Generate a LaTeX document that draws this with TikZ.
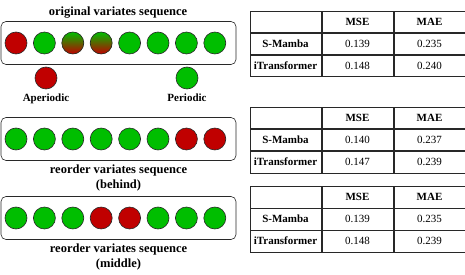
\documentclass[tikz,border=0pt]{standalone}
\usepackage{fontspec}
\setmainfont{Liberation Serif}
\usetikzlibrary{positioning}
\definecolor{vargreen}{RGB}{0, 190, 0}
\definecolor{varred}{RGB}{192, 0, 0}
\definecolor{edgegray}{RGB}{40, 40, 40}
\tikzset{
  greenvar/.style={circle, draw=edgegray, line width=0.6pt, fill=vargreen,
                   minimum size=22pt, inner sep=0pt},
  redvar/.style={greenvar, fill=varred},
  mixvar/.style={greenvar, top color=vargreen, bottom color=varred},
  seqbox/.style={rectangle, rounded corners=5pt, draw=edgegray, line width=0.6pt,
                 minimum width=235pt, minimum height=43pt},
  caption/.style={font=\fontsize{12.5}{15}\selectfont\bfseries, align=center},
  kind/.style={font=\fontsize{11}{13}\selectfont\bfseries},
  cell/.style={rectangle, draw=edgegray, line width=0.5pt, minimum width=71.5pt,
               minimum height=21.5pt, inner sep=0pt, font=\fontsize{11}{13}\selectfont},
  hcell/.style={cell, font=\fontsize{11}{13}\selectfont\bfseries},
}
\begin{document}
\begin{tikzpicture}[x=1pt, y=-1pt]
        \useasboundingbox (0,0) rectangle (465,275);

        % original sequence
        \node[caption] (cap1) at (118,13) {original variates sequence};
        \node[seqbox] (box1) at (118.5,43) {};
        \foreach \i/\s in {0/redvar, 1/greenvar, 2/mixvar, 3/mixvar,
                           4/greenvar, 5/greenvar, 6/greenvar, 7/greenvar} {
          \node[\s] (o\i) at (16+28.4*\i, 43) {};
        }
        \node[redvar] (aper) at (46,78) {};
        \node[kind, below=1pt of aper] (aperlab) {Aperiodic};
        \node[greenvar] (per) at (187,78) {};
        \node[kind, below=1pt of per] (perlab) {Periodic};

        % reordered (behind)
        \node[seqbox] (box2) at (118.5,139) {};
        \foreach \i/\s in {0/greenvar, 1/greenvar, 2/greenvar, 3/greenvar,
                           4/greenvar, 5/greenvar, 6/redvar, 7/redvar} {
          \node[\s] (b\i) at (16+28.4*\i, 139) {};
        }
        \node[caption, below=0pt of box2] (cap2) {reorder variates sequence\\(behind)};

        % reordered (middle)
        \node[seqbox] (box3) at (118.5,218) {};
        \foreach \i/\s in {0/greenvar, 1/greenvar, 2/greenvar, 3/redvar,
                           4/redvar, 5/greenvar, 6/greenvar, 7/greenvar} {
          \node[\s] (m\i) at (16+28.4*\i, 218) {};
        }
        \node[caption, below=0pt of box3] (cap3) {reorder variates sequence\\(middle)};

        % result tables
        \foreach \t/\y/\sa/\sb/\ia/\ib in {1/22/0.139/0.235/0.148/0.240,
                                           2/118/0.140/0.237/0.147/0.239,
                                           3/197/0.139/0.235/0.148/0.239} {
          \node[cell] (t\t h0) at (285.5,\y) {};
          \node[hcell, right=0pt of t\t h0] (t\t h1) {MSE};
          \node[hcell, right=0pt of t\t h1] (t\t h2) {MAE};
          \node[hcell, below=0pt of t\t h0] (t\t s0) {S-Mamba};
          \node[cell, right=0pt of t\t s0] (t\t s1) {\sa};
          \node[cell, right=0pt of t\t s1] (t\t s2) {\sb};
          \node[hcell, below=0pt of t\t s0] (t\t i0) {iTransformer};
          \node[cell, right=0pt of t\t i0] (t\t i1) {\ia};
          \node[cell, right=0pt of t\t i1] (t\t i2) {\ib};
        }
      \end{tikzpicture}
\end{document}
